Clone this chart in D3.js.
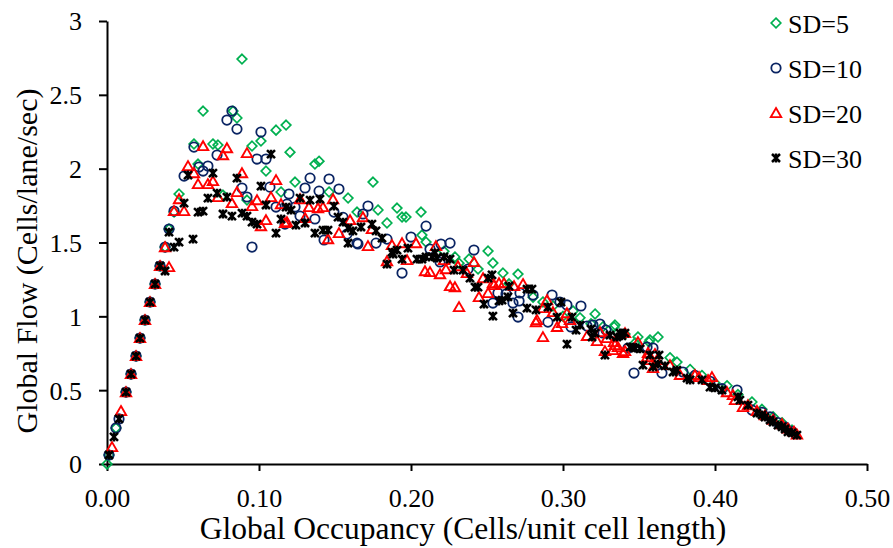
<!DOCTYPE html>
<html>
<head>
<meta charset="utf-8">
<script src="https://cdn.jsdelivr.net/npm/d3@7"></script>
<style>
  body { margin: 0; background: #fff; }
  svg { display: block; }
</style>
</head>
<body>
<div id="chart"></div>
<script>
// data: [occupancy, flow]
var sd5 = [[0,0],[0.0013,0.061],[0.0059,0.244],[0.0125,0.487],[0.0158,0.609],[0.0191,0.731],[0.0217,0.853],[0.025,0.975],[0.0283,1.097],[0.0316,1.219],[0.0349,1.341],[0.0382,1.469],[0.0408,1.591],[0.0441,1.706],[0.0474,1.828],[0.0599,2.031],[0.0572,2.167],[0.0697,2.167],[0.073,2.16],[0.0632,2.39],[0.0763,1.821],[0.0888,2.742],[0.0829,2.39],[0.0855,2.343],[0.0954,2.153],[0.1013,2.187],[0.1112,2.261],[0.1178,2.295],[0.1046,1.984],[0.1204,2.112],[0.0921,1.787],[0.1145,1.842],[0.1237,1.909],[0.1368,2.031],[0.1395,2.051],[0.1461,1.842],[0.1586,1.801],[0.1645,1.706],[0.175,1.909],[0.1783,1.72],[0.1908,1.733],[0.1941,1.672],[0.1967,1.672],[0.2066,1.706],[0.1842,1.632],[0.2099,1.503],[0.2289,1.402],[0.2382,1.388],[0.2507,1.442],[0.2539,1.361],[0.2441,1.32],[0.2605,1.293],[0.2704,1.286],[0.2868,1.097],[0.3066,1.036],[0.3211,1.016],[0.3336,0.928],[0.3342,0.941],[0.3493,0.86],[0.3566,0.826],[0.3572,0.84],[0.3625,0.86],[0.4,0.548],[0.2217,1.44],[0.2316,1.36],[0.2645,1.22],[0.2803,1.13],[0.2934,1.07],[0.3,1.0],[0.3112,0.99],[0.3184,0.95],[0.3263,0.93],[0.3408,0.88],[0.3474,0.82],[0.3704,0.72],[0.375,0.69],[0.3836,0.64],[0.3914,0.6],[0.4079,0.53],[0.4151,0.47],[0.4243,0.42],[0.4309,0.37],[0.4382,0.32],[0.4441,0.28],[0.4507,0.23],[0.2072,1.55]];

var sd10 = [[0.0013,0.061],[0.0059,0.244],[0.0079,0.305],[0.0125,0.487],[0.0158,0.609],[0.0191,0.731],[0.0217,0.853],[0.025,0.975],[0.0283,1.097],[0.0316,1.219],[0.0349,1.341],[0.0382,1.469],[0.0408,1.591],[0.0441,1.713],[0.0507,1.95],[0.0605,2.011],[0.0632,1.984],[0.0664,2.018],[0.0572,2.146],[0.0724,2.092],[0.0789,2.329],[0.0822,2.39],[0.0855,2.268],[0.1013,2.248],[0.0987,2.065],[0.1046,2.065],[0.0888,1.869],[0.0921,1.808],[0.1072,1.875],[0.1112,1.74],[0.1197,1.828],[0.1171,1.625],[0.0954,1.469],[0.1336,1.936],[0.1461,1.93],[0.1303,1.869],[0.1395,1.848],[0.1526,1.862],[0.1237,1.74],[0.127,1.679],[0.1368,1.659],[0.1428,1.517],[0.1493,1.706],[0.1579,1.557],[0.1645,1.496],[0.1717,1.747],[0.1684,1.693],[0.2099,1.611],[0.1842,1.523],[0.2,1.537],[0.177,1.496],[0.1651,1.49],[0.1941,1.293],[0.2125,1.456],[0.2197,1.49],[0.2257,1.496],[0.2191,1.368],[0.2375,1.32],[0.2414,1.449],[0.2539,1.09],[0.2572,1.158],[0.2625,1.151],[0.2717,1.158],[0.2803,1.144],[0.2671,1.09],[0.2711,1.104],[0.2704,0.995],[0.2928,1.144],[0.298,1.097],[0.3026,1.077],[0.3118,1.07],[0.2901,0.961],[0.3053,0.928],[0.3158,0.934],[0.3197,0.941],[0.3243,0.948],[0.3283,0.907],[0.3263,0.887],[0.3428,0.785],[0.3553,0.792],[0.3592,0.785],[0.3467,0.616],[0.3651,0.616],[0.3789,0.623],[0.4145,0.501],[0.4243,0.366],[0.3868,0.6],[0.3967,0.56],[0.4046,0.51],[0.4309,0.35],[0.4362,0.32],[0.4414,0.28],[0.4461,0.25],[0.4507,0.22],[0.1184,1.76],[0.1553,1.67]];

var sd20 = [[0.0033,0.115],[0.0092,0.359],[0.0125,0.487],[0.0158,0.609],[0.0191,0.731],[0.0217,0.853],[0.025,0.975],[0.0283,1.097],[0.0316,1.219],[0.0349,1.341],[0.0408,1.334],[0.0382,1.469],[0.0441,1.713],[0.0507,1.713],[0.0474,1.794],[0.0533,2.018],[0.0572,1.97],[0.0599,1.896],[0.0664,1.896],[0.0697,1.916],[0.073,1.808],[0.0632,2.153],[0.0763,2.092],[0.0789,2.139],[0.0921,2.106],[0.0888,1.97],[0.0855,1.842],[0.0822,1.767],[0.1112,1.923],[0.1079,1.808],[0.0987,1.787],[0.1013,1.611],[0.1046,1.652],[0.1145,1.76],[0.1171,1.632],[0.0954,1.747],[0.127,1.794],[0.1329,1.74],[0.1388,1.733],[0.1421,1.74],[0.1487,1.794],[0.1303,1.666],[0.1184,1.638],[0.1454,1.523],[0.1526,1.564],[0.1599,1.652],[0.1684,1.672],[0.1743,1.591],[0.1717,1.476],[0.1875,1.483],[0.1941,1.496],[0.2033,1.496],[0.1842,1.374],[0.1974,1.381],[0.2164,1.476],[0.2092,1.306],[0.2125,1.3],[0.2191,1.286],[0.223,1.32],[0.2217,1.381],[0.2309,1.34],[0.2368,1.293],[0.2257,1.205],[0.2289,1.198],[0.2316,1.063],[0.2414,1.368],[0.2474,1.259],[0.2447,1.131],[0.2507,1.158],[0.2546,1.212],[0.2539,1.225],[0.2579,1.225],[0.2612,1.225],[0.2678,1.205],[0.2737,1.219],[0.2822,0.961],[0.2829,0.975],[0.2868,0.86],[0.2895,1.11],[0.2868,1.056],[0.2934,1.029],[0.2961,0.928],[0.2993,0.955],[0.3046,0.975],[0.3026,1.022],[0.3243,0.894],[0.3158,0.867],[0.3224,0.833],[0.3276,0.765],[0.3329,0.772],[0.3408,0.887],[0.3336,0.826],[0.3342,0.806],[0.3362,0.792],[0.3395,0.752],[0.3493,0.826],[0.3559,0.752],[0.3605,0.745],[0.3618,0.704],[0.3408,0.765],[0.3289,0.853],[0.3553,0.724],[0.3572,0.704],[0.3592,0.65],[0.3704,0.67],[0.377,0.603],[0.3868,0.603],[0.3895,0.589],[0.3954,0.569],[0.398,0.589],[0.4079,0.487],[0.4118,0.467],[0.4132,0.433],[0.4184,0.386],[0.4217,0.399],[0.4276,0.36],[0.4329,0.33],[0.4382,0.3],[0.4441,0.27],[0.448,0.24],[0.452,0.22],[0.4539,0.2]];

var sd30 = [[0.0013,0.061],[0.0046,0.183],[0.0079,0.305],[0.0125,0.487],[0.0158,0.609],[0.0191,0.731],[0.0217,0.853],[0.025,0.975],[0.0283,1.097],[0.0316,1.219],[0.0349,1.341],[0.0382,1.307],[0.0408,1.57],[0.0441,1.469],[0.0474,1.503],[0.0566,1.523],[0.0599,1.706],[0.0632,1.713],[0.0664,1.801],[0.0724,1.835],[0.0763,1.693],[0.0507,1.767],[0.0533,1.957],[0.0697,1.97],[0.0822,1.679],[0.0789,1.808],[0.0855,1.936],[0.0888,1.699],[0.0921,1.679],[0.0954,1.638],[0.0987,1.625],[0.1013,1.882],[0.1079,2.099],[0.1046,1.754],[0.1112,1.564],[0.1145,1.659],[0.1178,1.74],[0.1211,1.72],[0.1243,1.618],[0.127,1.801],[0.1336,1.787],[0.1401,1.794],[0.1303,1.632],[0.1368,1.564],[0.1493,1.747],[0.1421,1.584],[0.1454,1.584],[0.152,1.672],[0.1553,1.638],[0.1586,1.598],[0.1586,1.496],[0.1618,1.578],[0.1671,1.605],[0.1743,1.625],[0.177,1.578],[0.1809,1.53],[0.1882,1.422],[0.1875,1.435],[0.1908,1.449],[0.198,1.462],[0.1941,1.388],[0.1842,1.354],[0.2039,1.388],[0.2072,1.388],[0.2099,1.402],[0.2138,1.402],[0.2158,1.429],[0.2171,1.395],[0.2217,1.402],[0.2257,1.388],[0.2283,1.313],[0.2342,1.313],[0.2388,1.259],[0.2421,1.198],[0.2441,1.198],[0.2507,1.259],[0.248,1.083],[0.2539,1.002],[0.2579,1.104],[0.2533,1.28],[0.2645,1.205],[0.2763,1.185],[0.2796,1.185],[0.2599,1.11],[0.2638,1.131],[0.2763,1.056],[0.2671,1.022],[0.2822,1.043],[0.2901,1.063],[0.2961,0.995],[0.2987,1.097],[0.3059,0.995],[0.3112,0.941],[0.3086,0.907],[0.3026,0.812],[0.3184,0.914],[0.3211,0.887],[0.3191,0.86],[0.3309,0.873],[0.3276,0.738],[0.3355,0.86],[0.3388,0.867],[0.3375,0.887],[0.3408,0.887],[0.3441,0.792],[0.3474,0.785],[0.3461,0.792],[0.3507,0.779],[0.3572,0.738],[0.3526,0.67],[0.3592,0.657],[0.3632,0.738],[0.3625,0.677],[0.3671,0.664],[0.3724,0.623],[0.375,0.636],[0.3816,0.582],[0.3836,0.569],[0.3914,0.569],[0.3967,0.521],[0.4,0.515],[0.4046,0.501],[0.4151,0.454],[0.4164,0.433],[0.4217,0.399],[0.4276,0.345],[0.4309,0.332],[0.4329,0.318],[0.4362,0.298],[0.4382,0.284],[0.4414,0.264],[0.4441,0.251],[0.4461,0.237],[0.448,0.217],[0.4507,0.21],[0.4539,0.196]];

var seriesNames = ["SD=5", "SD=10", "SD=20", "SD=30"];
var xTicks = [0, 0.1, 0.2, 0.3, 0.4, 0.5];
var yTicks = [0, 0.5, 1, 1.5, 2, 2.5, 3];

var FONT = "Liberation Serif, Tinos, Times New Roman, DejaVu Serif, serif";

//chart parameters
var width = 893, height = 548;
var margin = {top: 21, right: 26, bottom: 84, left: 107};

var svg = d3.select("#chart").append("svg")
  .attr("width", width)
  .attr("height", height)
  .attr("font-family", FONT);

var x = d3.scaleLinear().domain([0, 0.5]).range([margin.left, width - margin.right]);
var y = d3.scaleLinear().domain([0, 3]).range([height - margin.bottom, margin.top]);

//marker shapes
var markers = {
  "SD=5":  {path: "M0,-4.8L4.8,0L0,4.8L-4.8,0Z", color: "#00b050", sw: 1.7},
  "SD=10": {path: "M4.7,0A4.7,4.7 0 1,1 -4.7,0A4.7,4.7 0 1,1 4.7,0Z", color: "#0a2463", sw: 1.8},
  "SD=20": {path: "M0,-4.9L5.2,4.1L-5.2,4.1Z", color: "#ff0000", sw: 1.9},
  "SD=30": {path: "M-4,-4L4,4M-4,4L4,-4M0,-4.4L0,4.4", color: "#000000", sw: 2.5}
};

var allSeries = [sd5, sd10, sd20, sd30];

//axes
var xAxis = d3.axisBottom(x)
  .tickValues(xTicks)
  .tickFormat(d3.format(".2f"))
  .tickSize(7)
  .tickSizeOuter(0);

var yAxis = d3.axisLeft(y)
  .tickValues(yTicks)
  .tickFormat(function(d) { return String(d); })
  .tickSize(8)
  .tickSizeOuter(0);

var gx = svg.append("g")
  .attr("class", "x axis")
  .attr("transform", "translate(0," + y(0) + ")")
  .call(xAxis)
  .attr("font-family", FONT)
  .attr("font-size", 26);
gx.selectAll("text")
  .attr("y", 43).attr("dy", null);

var gy = svg.append("g")
  .attr("class", "y axis")
  .attr("transform", "translate(" + x(0) + ",0)")
  .call(yAxis)
  .attr("font-family", FONT)
  .attr("font-size", 26);
gy.selectAll("text")
  .attr("x", -25).attr("dy", "0.34em");

svg.selectAll(".axis path, .axis line")
  .attr("stroke", "#000")
  .attr("stroke-width", 2);
svg.selectAll(".axis text")
  .attr("fill", "#000");

//points, first series underneath
allSeries.forEach(function(data, i) {
  var m = markers[seriesNames[i]];
  svg.append("g")
    .selectAll("path")
    .data(data)
    .enter().append("path")
    .attr("d", m.path)
    .attr("transform", function(d) { return "translate(" + x(d[0]) + "," + y(d[1]) + ")"; })
    .attr("fill", "none")
    .attr("stroke", m.color)
    .attr("stroke-width", m.sw);
});

//axis titles
svg.append("text")
  .attr("x", 463)
  .attr("y", 539)
  .attr("text-anchor", "middle")
  .attr("font-size", 31.5)
  .text("Global Occupancy (Cells/unit cell length)");

svg.append("text")
  .attr("transform", "translate(37,261) rotate(-90)")
  .attr("text-anchor", "middle")
  .attr("font-size", 30)
  .text("Global Flow (Cells/lane/sec)");

//legend
var legend = svg.append("g").attr("class", "legend");
seriesNames.forEach(function(name, i) {
  var cy = 23 + i * 45;
  var m = markers[name];
  legend.append("path")
    .attr("d", m.path)
    .attr("transform", "translate(776," + cy + ")")
    .attr("fill", "none")
    .attr("stroke", m.color)
    .attr("stroke-width", m.sw);
  legend.append("text")
    .attr("x", 788)
    .attr("y", cy + 10)
    .attr("font-size", 26)
    .text(name);
});
</script>
</body>
</html>
